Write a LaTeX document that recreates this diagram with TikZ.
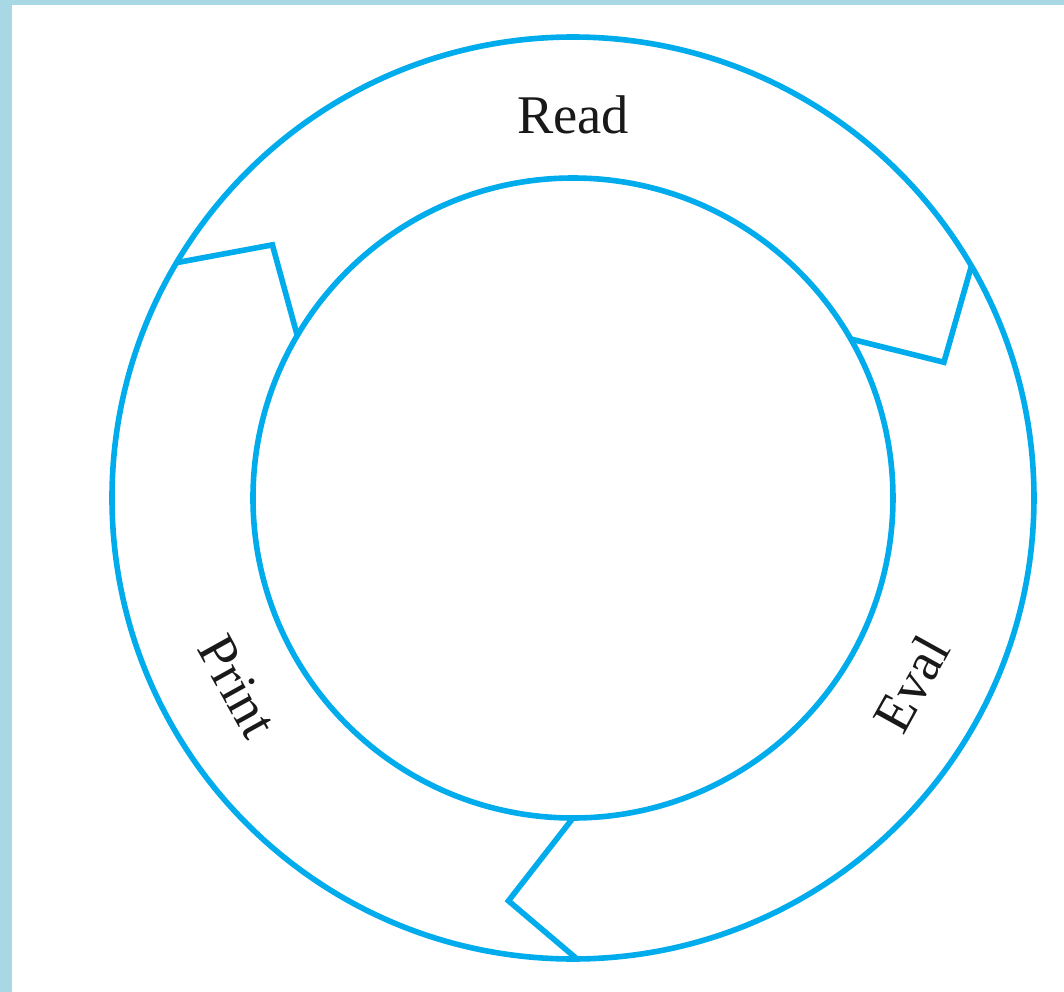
\documentclass[tikz,border=0pt]{standalone}
\usepackage{fontspec}
\setmainfont{Liberation Serif}
\begin{document}
\begin{tikzpicture}[
    ring/.style={draw=LoopBlue, line width=0.056cm},
    label/.style={font=\fontsize{15.5}{18}\selectfont, text=black!90}
]

    % 颜色
    \definecolor{LoopBlue}{RGB}{0, 172, 236}
    \definecolor{Frame}{RGB}{168, 216, 228}

    % 背景和边框
    \fill[Frame] (-5.73, 4.98) rectangle (4.91, -4.94);
    \fill[white] (-5.61, 4.93) rectangle (4.91, -4.94);
    \useasboundingbox (-5.73, 4.98) rectangle (4.91, -4.94);

    % 两个圆
    \coordinate (O) at (0.0, 0.0);
    \draw[ring] (O) circle (4.61);
    \draw[ring] (O) circle (3.20);

    % 箭头形的分隔线
    \draw[ring] (149.3:4.61) -- (139.9:3.93) -- (149.5:3.20);
    \draw[ring] (30.2:4.61) -- (20.1:3.95) -- (29.8:3.20);
    \draw[ring] (270.0:3.20) -- (260.9:4.08) -- (270.5:4.61);

    % 标签
    \node[label] (read) at (90:3.83) {Read};
    \node[label, rotate=61] (eval) at (-28.8:3.86) {Eval};
    \node[label, rotate=-61] (print) at (209.3:3.85) {Print};

\end{tikzpicture}
\end{document}
